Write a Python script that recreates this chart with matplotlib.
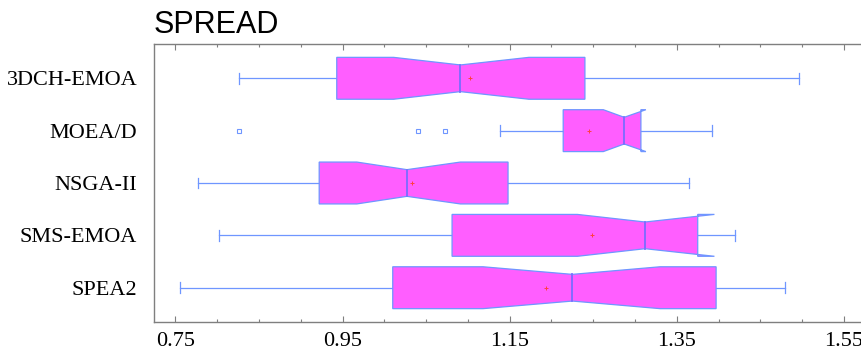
import matplotlib
matplotlib.use("Agg")
import matplotlib.pyplot as plt
import numpy as np

# values, listed top row first
labels = ["3DCH-EMOA", "MOEA/D", "NSGA-II", "SMS-EMOA", "SPEA2"]
whisker_lo = [0.826, 1.138, 0.777, 0.802, 0.756]
q1 = [0.943, 1.214, 0.922, 1.081, 1.010]
notch_lo = [1.011, 1.262, 0.967, 1.231, 1.118]
median = [1.091, 1.287, 1.027, 1.312, 1.225]
notch_hi = [1.173, 1.313, 1.091, 1.395, 1.330]
q3 = [1.240, 1.307, 1.148, 1.375, 1.397]
whisker_hi = [1.496, 1.392, 1.365, 1.420, 1.480]
means = [1.102, 1.245, 1.033, 1.248, 1.194]
outliers = [[], [0.826, 1.040, 1.073], [], [], []]

xticks = [0.75, 0.95, 1.15, 1.35, 1.55]

fill_col = "#ff5eff"
edge_col = "#6f96ff"
med_col = "#7a6cff"
axis_col = "#7f7f7f"

fig = plt.figure(figsize=(8.62, 3.56), dpi=100)
ax = fig.add_axes([154 / 862, 34 / 356, 708 / 862, 278 / 356])

hw = 0.40    # half box height
nw = 0.255   # half height at the notch
cap = 0.105

n = len(labels)
for i in range(n):
    p = n - i
    xs = [q1[i], notch_lo[i], median[i], notch_hi[i], q3[i],
          q3[i], notch_hi[i], median[i], notch_lo[i], q1[i]]
    ys = [p - hw, p - hw, p - nw, p - hw, p - hw,
          p + hw, p + hw, p + nw, p + hw, p + hw]
    ax.fill(xs, ys, facecolor=fill_col, edgecolor=edge_col, linewidth=0.9, zorder=2)
    ax.plot([median[i], median[i]], [p - nw, p + nw], color=med_col, lw=1.3, zorder=3)
    ax.plot([whisker_lo[i], q1[i]], [p, p], color=edge_col, lw=0.9, zorder=1)
    ax.plot([q3[i], whisker_hi[i]], [p, p], color=edge_col, lw=0.9, zorder=1)
    for w in (whisker_lo[i], whisker_hi[i]):
        ax.plot([w, w], [p - cap, p + cap], color=edge_col, lw=0.9, zorder=1)
    ax.plot([means[i]], [p], marker="+", color="#ff4040", ms=3, mew=0.7, zorder=4)
    if outliers[i]:
        ax.plot(outliers[i], [p] * len(outliers[i]), ls="none", marker="s", ms=3,
                mfc="white", mec=edge_col, mew=0.8, zorder=4)

ax.set_xlim(0.7243, 1.5716)
ax.set_ylim(0.345, n + 0.655)
ax.set_xticks(xticks)
ax.set_xticklabels([f"{t:.2f}" for t in xticks], family="Liberation Serif", fontsize=16)
ax.set_xticks(np.arange(0.75, 1.56, 0.05), minor=True)
ax.set_yticks(range(n, 0, -1))
ax.set_yticklabels(labels, family="Liberation Serif", fontsize=16)

ax.tick_params(axis="x", which="both", direction="in", top=True, bottom=True,
               color=axis_col, pad=7)
ax.tick_params(axis="x", which="major", length=4.5, width=0.8)
ax.tick_params(axis="x", which="minor", length=2.2, width=0.8)
ax.tick_params(axis="y", length=0, pad=12)

ax.spines["right"].set_visible(False)
for s in ("left", "top", "bottom"):
    ax.spines[s].set_color(axis_col)
    ax.spines[s].set_linewidth(1.0)

ax.set_title("SPREAD", loc="left", family="Liberation Sans", fontsize=22, pad=8)

fig.savefig("out.png", dpi=100)
